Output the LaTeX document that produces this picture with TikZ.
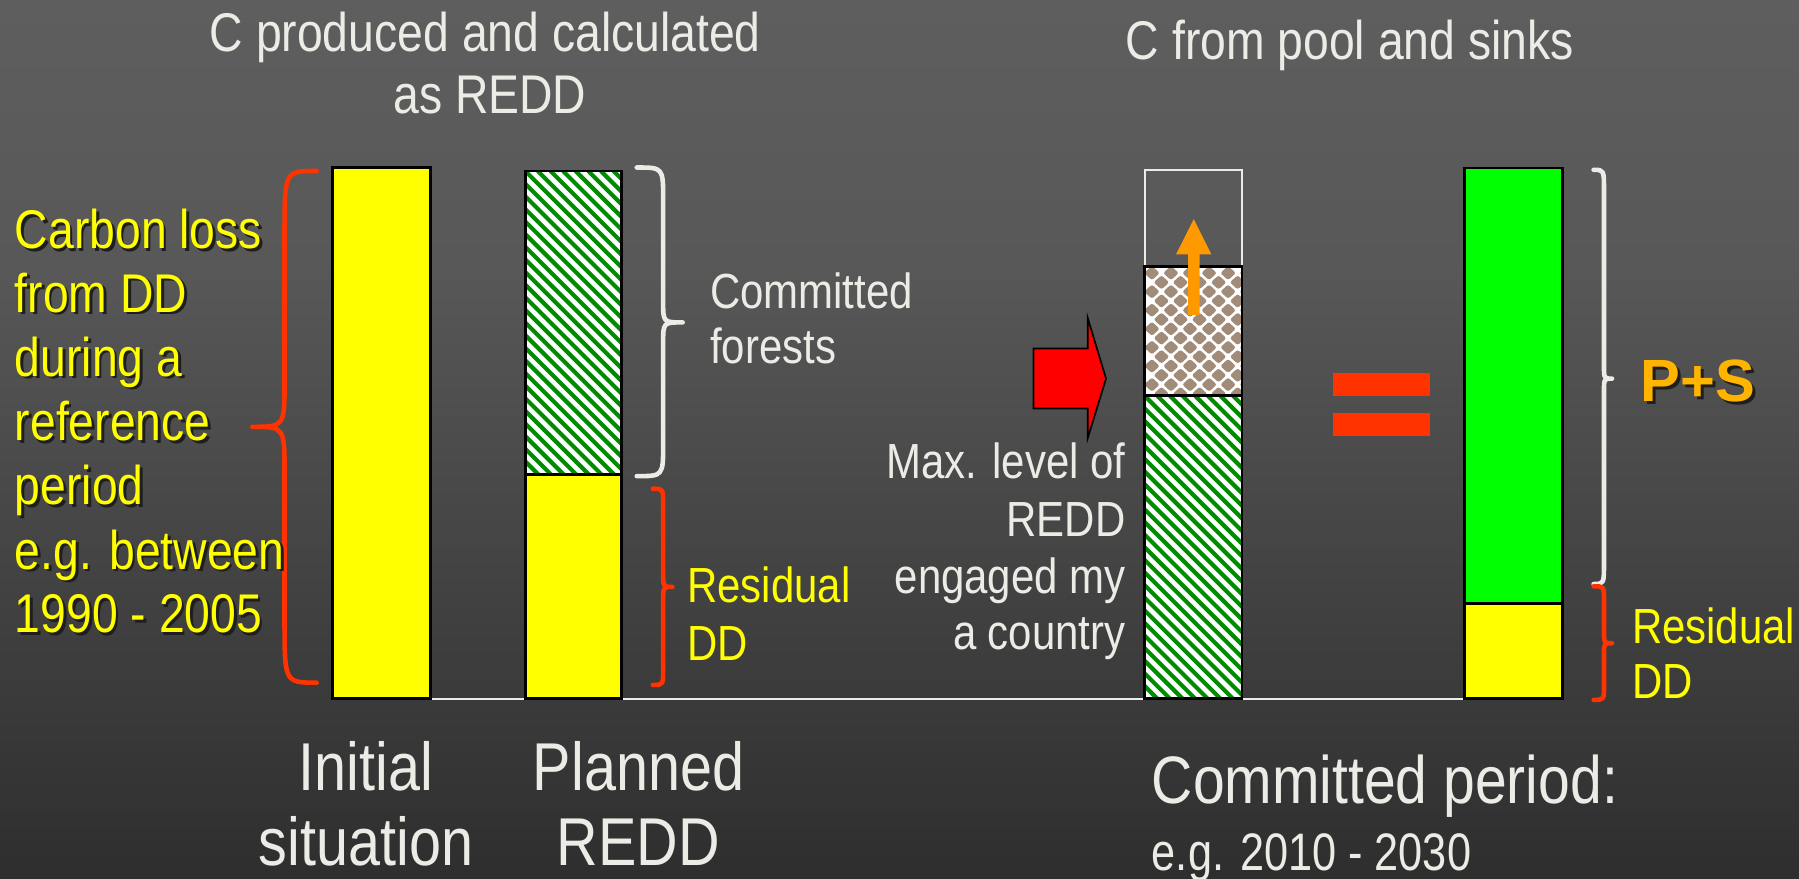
\documentclass[tikz,border=0pt]{standalone}
\usepackage{fontspec}
\newfontfamily\nf{Liberation Sans}[FakeStretch=0.85]
\newfontfamily\nfl{Liberation Sans}[FakeStretch=0.82]
\newfontfamily\wf{Liberation Sans}
\definecolor{bgtop}{RGB}{94,94,94}
\definecolor{bgmid}{RGB}{88,88,88}
\definecolor{bgbot}{RGB}{46,46,46}
\definecolor{fg}{RGB}{236,236,230}
\definecolor{yel}{RGB}{255,255,0}
\definecolor{redb}{RGB}{255,51,0}
\definecolor{hatchg}{RGB}{0,140,0}
\definecolor{brownc}{RGB}{160,140,120}
\definecolor{orangec}{RGB}{255,153,0}
\definecolor{psc}{RGB}{255,180,0}
\definecolor{shadowc}{RGB}{30,30,30}
\definecolor{grn}{RGB}{0,255,0}
\newcommand{\mybrace}[9]{%
  \draw[#1] (#2,#5) .. controls (#3,#5) .. (#3,{#5+#8}) -- (#3,{#6-#9})
    .. controls (#3,#6) .. (#4,#6) .. controls (#3,#6) .. (#3,{#6+#9})
    -- (#3,{#7-#8}) .. controls (#3,#7) .. (#2,#7);}
\newcommand{\dmd}[2]{%
  \fill[brownc,rounded corners=2pt] ({#1-6.8},{#2}) -- ({#1},{#2-6.2}) -- ({#1+6.8},{#2}) -- ({#1},{#2+6.2}) -- cycle;}
% hatched box: x1 y1 x2 y2
\newcommand{\hatchbox}[4]{%
  \begin{scope}
    \clip (#1,#2) rectangle (#3,#4);
    \fill[white] (#1,#2) rectangle (#3,#4);
    \foreach \k in {-26,...,9}{
      \draw[hatchg,line width=3.6pt] ({#1+\k*11},#2) -- ({#1+\k*11+300},{#2+300});
    }
  \end{scope}
  \draw[draw=black,line width=2.5pt] (#1,#2) rectangle (#3,#4);}
\begin{document}
\begin{tikzpicture}[x=1pt,y=-1pt,
  txt/.style={inner sep=0pt,outer sep=0pt},
  ttl/.style={txt,text=fg,font={\nf\fontsize{47.5}{54}\selectfont},anchor=base},
  ltxt/.style={txt,font={\nf\fontsize{47.5}{54}\selectfont},anchor=base west},
  mtxt/.style={txt,font={\nf\fontsize{43}{50}\selectfont}},
  btxt/.style={txt,text=fg,font={\nf\fontsize{59}{65}\selectfont},anchor=base},
  bar/.style={draw=black,line width=2.5pt},
  redbrace/.style={draw=redb,line width=4pt,line cap=round,line join=round},
  whitebrace/.style={draw=fg,line width=4pt,line cap=round,line join=round}]
\useasboundingbox (0,0) rectangle (1568,765.3);
% background
\shade[top color=bgtop,bottom color=bgmid] (0,0) rectangle (1568,230);
\shade[top color=bgmid,bottom color=bgbot] (0,229.5) rectangle (1568,765.3);
% titles
\node[ttl] (t1) at (423,45) {C produced and calculated};
\node[ttl] (t2) at (427,99) {as REDD};
\node[ttl] (t3) at (1176.5,52) {C from pool and sinks};
% baseline
\draw[draw=fg,line width=2pt] (328.4,609) -- (1276.4,609);
% bar 1
\filldraw[bar,fill=yel] (290,146) rectangle (375,608.5);
% bar 2
\hatchbox{457.7}{149}{542}{413.6}
\filldraw[bar,fill=yel] (457.7,413.6) rectangle (542,608.5);
% bar 3
\draw[draw=fg,line width=2pt] (997.7,232) -- (997.7,148.3) -- (1082.5,148.3) -- (1082.5,232);
\begin{scope}
  \clip (997.7,232) rectangle (1082.5,345);
  \fill[white] (997.7,232) rectangle (1082.5,345);
  \foreach \i in {0,...,6}{
    \foreach \j in {0,...,7}{
      \dmd{1004+\i*16.6}{238+\j*16.2}
      \dmd{1012.3+\i*16.6}{246.1+\j*16.2}
    }
  }
\end{scope}
\draw[bar] (997.7,232) rectangle (1082.5,345);
\hatchbox{997.7}{345}{1082.5}{608.5}
% orange arrow
\fill[orangec] (1035.5,274.6) -- (1035.5,221.7) -- (1025,221.7) -- (1040.5,191) -- (1055.8,221.7) -- (1045.6,221.7) -- (1045.6,274.6) -- cycle;
% red block arrow
\filldraw[fill=red,draw=black,line width=1.5pt,line join=miter] (900.7,303.7) -- (948,303.7) -- (948,277) -- (964,330) -- (948,382) -- (948,356) -- (900.7,356) -- cycle;
% equal sign
\fill[redb] (1162,325) rectangle (1246,345);
\fill[redb] (1162,360) rectangle (1246,380);
% bar 4
\filldraw[bar,fill=grn] (1276.4,146.4) rectangle (1361.5,525.8);
\filldraw[bar,fill=yel] (1276.4,525.8) rectangle (1361.5,608.5);
% braces
\mybrace{redbrace}{276}{248}{220}{149}{372}{595}{55}{40}
\mybrace{whitebrace}{555}{578}{595}{146}{281}{415}{28}{18}
\mybrace{redbrace}{569}{578}{586}{426}{511.5}{597}{14}{12}
\mybrace{whitebrace}{1389}{1398}{1405}{148}{330}{509}{18}{12}
\mybrace{redbrace}{1389}{1398}{1405}{511}{560.6}{610}{12}{10}
% left yellow text with shadow
\foreach \t/\yy [count=\k] in {Carbon loss/216.5,from DD/272,during a/328,reference/384,period/440,e.g. between/496,1990 - 2005/551.5}{
  \node[ltxt,text=shadowc] (cls\k) at (15.3,{\yy+2.3}) {\t};
  \node[ltxt,text=yel] (cl\k) at (13,\yy) {\t};
}
% committed forests
\node[mtxt,text=fg,anchor=base west] (cf1) at (619,268.6) {Committed};
\node[mtxt,text=fg,anchor=base west] (cf2) at (619,317) {forests};
% residual DD
\node[mtxt,text=yel,anchor=base west] (rd1) at (599,525) {Residual};
\node[mtxt,text=yel,anchor=base west] (rd2) at (599,575.5) {DD};
% max level
\node[mtxt,text=fg,anchor=base east] (ml1) at (981,417) {Max. level of};
\node[mtxt,text=fg,anchor=base east] (ml2) at (981,467.5) {REDD};
\node[mtxt,text=fg,anchor=base east] (ml3) at (981,517) {engaged my};
\node[mtxt,text=fg,anchor=base east] (ml4) at (981,566.5) {a country};
% P+S
\node[txt,text=shadowc,anchor=base west,font={\wf\bfseries\fontsize{52}{60}\selectfont}] (pss) at (1432.5,352.5) {P+S};
\node[txt,text=psc,anchor=base west,font={\wf\bfseries\fontsize{52}{60}\selectfont}] (ps) at (1430,350) {P+S};
% residual DD right
\node[mtxt,text=yel,anchor=base west] (rr1) at (1422.5,560.6) {Residual};
\node[mtxt,text=yel,anchor=base west] (rr2) at (1422.5,608.5) {DD};
% bottom labels
\node[btxt] (b1) at (319,688.7) {Initial};
\node[btxt] (b2) at (319,754) {situation};
\node[btxt] (b3) at (556.5,688.7) {Planned};
\node[btxt] (b4) at (556.5,754) {REDD};
\node[txt,text=fg,anchor=base west,font={\nf\fontsize{58.5}{65}\selectfont}] (cp1) at (1004,700) {Committed period:};
\node[txt,text=fg,anchor=base west,font={\nfl\fontsize{46}{52}\selectfont}] (cp2) at (1004,758.5) {e.g. 2010 - 2030};
\end{tikzpicture}
\end{document}
